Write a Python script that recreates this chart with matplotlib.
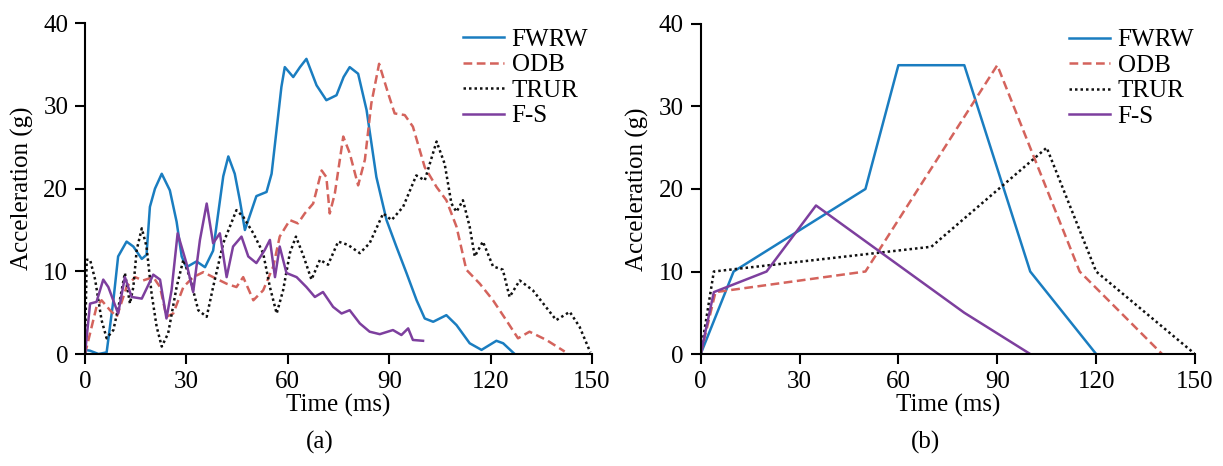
import matplotlib
matplotlib.use('Agg')
import matplotlib.pyplot as plt

plt.rcParams['font.family'] = ['Liberation Serif', 'DejaVu Serif']

# (a) measured crash pulses
fwrw_t = [0, 1.5, 4, 6.4, 8.4, 9.8, 12.3, 14.3, 16.8, 18.2, 19.2, 20.7, 22.7, 25.1, 27.1, 28.6,
          30, 33, 35.5, 37.9, 40.9, 42.4, 44.3, 45.8, 47.3, 48.8, 50.7, 53.7, 55.2, 56.5, 58.1,
          59.1, 61.6, 63.6, 65.5, 68.5, 71.4, 74.4, 76.5, 78.3, 80.8, 83.3, 86.2, 89.2, 92.1,
          95.1, 98.1, 100.5, 103, 106.9, 109.9, 113.8, 117.3, 121.7, 123.7, 127.1]
fwrw_a = [0.5, 0.4, 0, 0.2, 6.5, 11.8, 13.6, 13.0, 11.5, 12.0, 17.8, 20.0, 21.8, 19.8, 16.0, 11.8,
          10.5, 11.2, 10.5, 12.5, 21.5, 23.9, 21.8, 18.6, 15.0, 16.8, 19.1, 19.6, 21.8, 26.5, 32.3,
          34.7, 33.5, 34.7, 35.7, 32.5, 30.7, 31.3, 33.5, 34.7, 33.9, 29.5, 21.4, 16.2, 13.0,
          9.8, 6.5, 4.3, 3.9, 4.7, 3.5, 1.3, 0.5, 1.6, 1.3, 0]

odb_t = [0, 1.5, 3.4, 4.9, 7.4, 9.4, 12.3, 14.8, 17.2, 20.2, 22.2, 24.1, 26.1, 29.1, 32, 35,
         37.9, 41.9, 44.8, 46.8, 49.8, 52.7, 55.7, 57.6, 60.6, 63, 65, 67.5, 70, 71.4, 72.4,
         73.9, 76.4, 78.3, 80.8, 82.8, 84.7, 87, 89.7, 91.6, 94.6, 97, 100.5, 104, 106.9,
         109.9, 112.8, 116.8, 120.7, 124.6, 128.1, 131.5, 136.5, 141.9]
odb_a = [0, 2.5, 5.7, 6.5, 5.3, 4.5, 8.1, 9.3, 8.9, 9.3, 8.1, 4.5, 4.9, 8.1, 9.3, 9.9,
         9.3, 8.5, 8.1, 9.3, 6.5, 7.7, 10.6, 14.2, 16.2, 15.8, 17.0, 18.2, 22.2, 21.4, 17.0,
         19.4, 26.3, 24.3, 20.4, 23.5, 30.3, 35.1, 31.5, 29.1, 28.9, 27.5, 22.6, 20.2, 18.6,
         15.4, 10.2, 8.5, 6.5, 4.1, 1.9, 2.7, 1.7, 0.3]

trur_t = [0, 0.5, 1.5, 3, 4.9, 6.4, 8.4, 10.3, 11.8, 13.3, 14.3, 15.3, 16.8, 18.2, 19.7, 21.2,
          22.7, 24.6, 27.1, 29.1, 31, 33.5, 36, 37.9, 40.9, 44.8, 46.8, 49.8, 52.7, 54.7, 56.7,
          58.6, 60.6, 62.4, 64.5, 67, 69.5, 71.9, 74.9, 77.8, 81.3, 84.2, 88.2, 90.7, 94.1, 98,
          100.5, 104, 106.4, 108.4, 109.9, 111.8, 113.8, 115.3, 117.7, 120.7, 123.6, 125.6,
          128.6, 132.5, 139.4, 143.4, 146.3, 149.5]
trur_a = [0, 11.4, 11.4, 9.0, 4.1, 1.9, 2.9, 6.5, 9.8, 6.1, 8.1, 12.6, 15.2, 13.0, 7.3, 3.3,
          0.9, 2.5, 8.1, 11.4, 9.3, 5.3, 4.5, 8.1, 13.4, 17.4, 16.6, 14.6, 12.2, 8.1, 4.9,
          7.7, 12.2, 14.2, 12.0, 9.0, 11.4, 10.8, 13.6, 13.2, 12.2, 13.4, 17.0, 16.2, 17.8, 21.6,
          21.0, 25.7, 23.0, 18.2, 17.2, 18.6, 15.4, 11.8, 13.6, 10.6, 10.2, 6.9,
          8.9, 7.7, 4.1, 5.1, 3.3, 0.2]

fs_t = [0, 1.5, 3.4, 5.4, 6.9, 9.8, 11.8, 13.8, 16.8, 20.2, 22.2, 24.1, 25.6, 27.4, 30, 32,
        34, 36, 37.9, 39.9, 41.9, 43.8, 46.3, 48.3, 50.7, 53.2, 54.7, 56.2, 57.6, 59.6, 62.6,
        65.5, 68, 70.4, 73.4, 75.9, 78.3, 81.3, 84.2, 87.2, 91.1, 93.6, 95.6, 97, 100]
fs_a = [0, 6.1, 6.3, 9.0, 8.1, 4.9, 9.3, 6.9, 6.7, 9.6, 9.0, 4.3, 7.7, 14.6, 11.0, 7.5,
        13.8, 18.2, 13.4, 14.6, 9.3, 13.0, 14.2, 11.8, 11.0, 12.6, 13.8, 9.3, 13.0, 9.8, 9.3,
        8.1, 6.9, 7.5, 5.7, 4.9, 5.3, 3.7, 2.7, 2.4, 2.9, 2.3, 3.1, 1.7, 1.6]

# (b) simplified pulses
fwrw_bt = [0, 10, 50, 60, 80, 100, 120]
fwrw_b = [0, 10, 20, 35, 35, 10, 0]
odb_bt = [0, 4.5, 50, 90, 115, 140]
odb_b = [0, 7.5, 10, 35, 10, 0]
trur_bt = [0, 4, 70, 105, 120, 150]
trur_b = [0, 10, 13, 25, 10, 0]
fs_bt = [0, 4, 20, 35, 80, 100]
fs_b = [0, 7.5, 10, 18, 5, 0]

labels = ['FWRW', 'ODB', 'TRUR', 'F-S']
colors = ['#1a7dc0', '#d4635c', '#111111', '#7d3f9e']
styles = ['-', (0, (3.5, 1.8)), (0, (1, 1.2)), '-']
xticks = [0, 30, 60, 90, 120, 150]
yticks = [0, 10, 20, 30, 40]

fig = plt.figure(figsize=(12.23, 4.66), dpi=100)
ax1 = fig.add_axes([0.0695, 0.2403, 0.4146, 0.7097])
ax2 = fig.add_axes([0.5729, 0.2403, 0.4042, 0.7083])

data_a = [(fwrw_t, fwrw_a), (odb_t, odb_a), (trur_t, trur_a), (fs_t, fs_a)]
data_b = [(fwrw_bt, fwrw_b), (odb_bt, odb_b), (trur_bt, trur_b), (fs_bt, fs_b)]

for ax, data in [(ax1, data_a), (ax2, data_b)]:
    for (t, a), lab, c, ls in zip(data, labels, colors, styles):
        ax.plot(t, a, color=c, linestyle=ls, linewidth=1.8, label=lab)
    ax.set_xlim(0, 150)
    ax.set_ylim(0, 40)
    ax.set_xticks(xticks)
    ax.set_yticks(yticks)
    ax.spines['top'].set_visible(False)
    ax.spines['right'].set_visible(False)
    ax.spines['left'].set_linewidth(1.5)
    ax.spines['bottom'].set_linewidth(1.5)
    ax.tick_params(direction='out', length=7, width=1.5, labelsize=18, pad=5)
    ax.set_xlabel('Time (ms)', fontsize=18, labelpad=1)
    ax.set_ylabel('Acceleration (g)', fontsize=18, labelpad=7)
    ax.legend(loc='upper left', bbox_to_anchor=(0.745, 0.985), frameon=False, fontsize=18,
              handlelength=1.65, handletextpad=0.3, labelspacing=0.12,
              borderpad=0, borderaxespad=0)

fig.text(320 / 1223, 1 - 442 / 466, '(a)', fontsize=18, ha='center', va='center')
fig.text(925 / 1223, 1 - 442 / 466, '(b)', fontsize=18, ha='center', va='center')

fig.savefig('out.png', dpi=100)
